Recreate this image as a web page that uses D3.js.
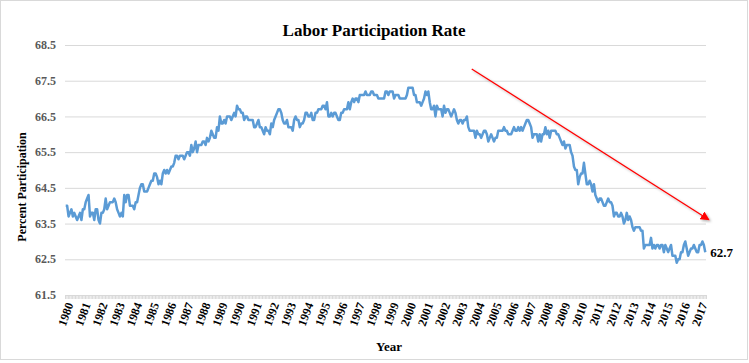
<!DOCTYPE html>
<html>
<head>
<meta charset="utf-8">
<script src="https://cdn.jsdelivr.net/npm/d3@7"></script>
<style>
  body { margin: 0; background: #fff; }
  svg { display: block; font-family: "Liberation Serif", "Times New Roman", serif; }
</style>
</head>
<body>
<svg id="chart" width="749" height="363"></svg>
<script>
// monthly labor force participation rate, Jan 1980 .. May 2017
const rate = [
  64.0, 64.0, 63.7, 63.8, 63.9, 63.7, 63.8, 63.7, 63.6, 63.7, 63.8, 63.6, // 1980
  63.9, 63.9, 64.1, 64.2, 64.3, 63.7, 63.8, 63.8, 63.6, 63.9, 63.9, 63.6, // 1981
  63.5, 63.8, 63.8, 63.9, 64.2, 63.9, 64.0, 64.1, 64.1, 64.1, 64.2, 64.1, // 1982
  63.9, 63.8, 63.7, 63.8, 63.7, 64.3, 64.1, 64.3, 64.3, 64.0, 64.0, 64.0, // 1983
  63.9, 64.1, 64.1, 64.3, 64.5, 64.6, 64.6, 64.4, 64.4, 64.4, 64.5, 64.6, // 1984
  64.7, 64.7, 64.9, 64.9, 64.8, 64.6, 64.7, 64.6, 64.9, 65.0, 64.9, 65.0, // 1985
  64.9, 65.0, 65.1, 65.1, 65.2, 65.4, 65.4, 65.3, 65.4, 65.4, 65.4, 65.3, // 1986
  65.4, 65.5, 65.5, 65.4, 65.7, 65.5, 65.6, 65.8, 65.5, 65.7, 65.7, 65.7, // 1987
  65.8, 65.8, 65.7, 65.9, 65.8, 65.9, 66.1, 66.0, 65.9, 65.9, 66.2, 66.1, // 1988
  66.5, 66.3, 66.3, 66.4, 66.3, 66.5, 66.5, 66.5, 66.4, 66.5, 66.6, 66.5, // 1989
  66.8, 66.7, 66.7, 66.6, 66.6, 66.4, 66.5, 66.5, 66.4, 66.4, 66.4, 66.4, // 1990
  66.2, 66.2, 66.3, 66.4, 66.2, 66.2, 66.1, 66.0, 66.2, 66.1, 66.1, 66.0, // 1991
  66.3, 66.2, 66.4, 66.5, 66.6, 66.7, 66.7, 66.6, 66.4, 66.3, 66.3, 66.4, // 1992
  66.2, 66.2, 66.2, 66.1, 66.4, 66.5, 66.4, 66.4, 66.2, 66.3, 66.3, 66.4, // 1993
  66.6, 66.6, 66.5, 66.5, 66.6, 66.4, 66.4, 66.6, 66.6, 66.7, 66.7, 66.7, // 1994
  66.8, 66.8, 66.7, 66.9, 66.5, 66.5, 66.6, 66.5, 66.6, 66.6, 66.5, 66.4, // 1995
  66.4, 66.6, 66.6, 66.7, 66.7, 66.7, 66.9, 66.7, 66.9, 67.0, 66.9, 67.0, // 1996
  67.0, 66.9, 67.1, 67.1, 67.1, 67.1, 67.2, 67.1, 67.1, 67.1, 67.2, 67.2, // 1997
  67.1, 67.1, 67.1, 67.0, 67.0, 67.0, 67.0, 67.0, 67.2, 67.2, 67.1, 67.2, // 1998
  67.2, 67.2, 67.0, 67.1, 67.1, 67.1, 67.0, 67.0, 67.0, 67.0, 67.0, 67.1, // 1999
  67.3, 67.3, 67.3, 67.3, 67.1, 67.1, 66.9, 66.9, 66.9, 66.8, 66.9, 67.0, // 2000
  67.2, 67.1, 67.2, 66.9, 66.7, 66.7, 66.8, 66.5, 66.8, 66.7, 66.7, 66.7, // 2001
  66.5, 66.8, 66.6, 66.7, 66.7, 66.6, 66.5, 66.6, 66.7, 66.6, 66.4, 66.3, // 2002
  66.4, 66.4, 66.3, 66.4, 66.4, 66.5, 66.2, 66.1, 66.1, 66.1, 66.1, 65.9, // 2003
  66.1, 66.0, 66.0, 65.9, 66.0, 66.1, 66.1, 66.0, 65.8, 65.9, 66.0, 65.9, // 2004
  65.8, 65.9, 65.9, 66.1, 66.1, 66.1, 66.1, 66.2, 66.1, 66.1, 66.0, 66.0, // 2005
  66.0, 66.1, 66.2, 66.1, 66.1, 66.2, 66.1, 66.2, 66.1, 66.2, 66.3, 66.4, // 2006
  66.4, 66.3, 66.2, 65.9, 66.0, 66.0, 66.0, 65.8, 66.0, 65.8, 66.0, 66.0, // 2007
  66.2, 66.0, 66.1, 65.9, 66.1, 66.1, 66.1, 66.1, 66.0, 66.0, 65.9, 65.8, // 2008
  65.7, 65.8, 65.6, 65.7, 65.7, 65.7, 65.5, 65.4, 65.1, 65.0, 65.0, 64.6, // 2009
  64.8, 64.9, 64.9, 65.2, 64.9, 64.6, 64.6, 64.7, 64.6, 64.4, 64.6, 64.3, // 2010
  64.2, 64.1, 64.2, 64.2, 64.1, 64.0, 64.0, 64.1, 64.2, 64.1, 64.1, 64.0, // 2011
  63.7, 63.8, 63.8, 63.7, 63.7, 63.8, 63.7, 63.5, 63.6, 63.8, 63.6, 63.7, // 2012
  63.6, 63.4, 63.3, 63.4, 63.4, 63.4, 63.4, 63.3, 63.3, 62.8, 62.9, 62.9, // 2013
  62.9, 62.9, 63.1, 62.8, 62.9, 62.8, 62.9, 62.9, 62.8, 62.9, 62.9, 62.7, // 2014
  62.9, 62.8, 62.7, 62.8, 62.9, 62.6, 62.6, 62.6, 62.4, 62.5, 62.5, 62.7, // 2015
  62.7, 62.9, 63.0, 62.8, 62.6, 62.7, 62.8, 62.8, 62.9, 62.8, 62.7, 62.7, // 2016
  62.9, 62.9, 63.0, 62.9, 62.7                                            // 2017
];
const startYear = 1980;
const years = d3.range(1980, 2018);
const yTicks = [61.5, 62.5, 63.5, 64.5, 65.5, 66.5, 67.5, 68.5];
const lastLabel = '62.7';
// trend arrow, in [year, rate]
const arrowFrom = [2003.7, 67.83];
const arrowTo = [2017.5, 63.62];

const svg = d3.select('#chart');
const plotLeft = 65, plotRight = 706, plotTop = 45, plotBottom = 295;

const x = d3.scaleLinear()
  .domain([-0.5, rate.length - 0.5])
  .range([plotLeft, plotRight]);
const y = d3.scaleLinear()
  .domain([61.5, 68.5])
  .range([plotBottom, plotTop]);
const xYear = yr => x((yr - startYear) * 12);

// frame
svg.append('rect')
  .attr('x', 0.5).attr('y', 0.5)
  .attr('width', 747).attr('height', 359)
  .attr('fill', 'none')
  .attr('stroke', '#d9d9d9');

// title
svg.append('text')
  .attr('x', 374).attr('y', 36)
  .attr('text-anchor', 'middle')
  .style('font-size', '17px')
  .style('font-weight', 'bold')
  .text('Labor Participation Rate');

// grid
svg.append('g')
  .selectAll('line')
  .data(yTicks.slice(1))
  .enter().append('line')
  .attr('x1', plotLeft).attr('x2', plotRight)
  .attr('y1', d => y(d) + 0.5).attr('y2', d => y(d) + 0.5)
  .attr('stroke', '#d9d9d9');

// y labels
svg.append('g')
  .selectAll('text')
  .data(yTicks)
  .enter().append('text')
  .attr('x', 56)
  .attr('y', d => y(d))
  .attr('dy', '0.35em')
  .attr('text-anchor', 'end')
  .style('font-size', '12px')
  .style('font-weight', 'bold')
  .attr('fill', '#595959')
  .text(d => d.toFixed(1));

// x axis with monthly ticks
const xAxis = svg.append('g')
  .attr('transform', `translate(0,${plotBottom})`)
  .call(d3.axisBottom(x)
    .tickValues(d3.range(0, rate.length + 1).map(i => i - 0.5))
    .tickSize(4)
    .tickFormat(''));
xAxis.select('.domain').attr('stroke', '#d9d9d9');
xAxis.selectAll('.tick line').attr('stroke', '#d9d9d9');

svg.append('g')
  .selectAll('text')
  .data(years)
  .enter().append('text')
  .attr('transform', d => `translate(${xYear(d) + 4},${plotBottom + 8}) rotate(-70)`)
  .attr('text-anchor', 'end')
  .attr('dy', '0.35em')
  .style('font-size', '12px')
  .style('font-weight', 'bold')
  .text(d => d);

// axis titles
svg.append('text')
  .attr('transform', 'translate(26,187) rotate(-90)')
  .attr('text-anchor', 'middle')
  .style('font-size', '12px')
  .style('font-weight', 'bold')
  .text('Percent Participation');

svg.append('text')
  .attr('x', 389).attr('y', 351)
  .attr('text-anchor', 'middle')
  .style('font-size', '13px')
  .style('font-weight', 'bold')
  .text('Year');

// the line
svg.append('path')
  .datum(rate)
  .attr('fill', 'none')
  .attr('stroke', '#5b9bd5')
  .attr('stroke-width', 2.5)
  .attr('stroke-linejoin', 'round')
  .attr('d', d3.line().x((d, i) => x(i)).y(d => y(d)));

svg.append('text')
  .attr('x', x(rate.length - 1) + 5)
  .attr('y', y(rate[rate.length - 1]))
  .attr('dy', '0.35em')
  .style('font-size', '13px')
  .style('font-weight', 'bold')
  .text(lastLabel);

// trend arrow
const defs = svg.append('defs');
defs.append('marker')
  .attr('id', 'head')
  .attr('viewBox', '0 0 10 10')
  .attr('refX', 8).attr('refY', 5)
  .attr('markerWidth', 7).attr('markerHeight', 7)
  .attr('orient', 'auto')
  .append('path')
  .attr('d', 'M0,0L10,5L0,10Z')
  .attr('fill', '#ff0000');
const shadow = defs.append('filter').attr('id', 'shadow')
  .attr('x', '-10%').attr('y', '-10%').attr('width', '130%').attr('height', '130%');
shadow.append('feDropShadow')
  .attr('dx', 1.5).attr('dy', 1.5).attr('stdDeviation', 1.2)
  .attr('flood-color', '#000').attr('flood-opacity', 0.3);

svg.append('line')
  .attr('x1', xYear(arrowFrom[0])).attr('y1', y(arrowFrom[1]))
  .attr('x2', xYear(arrowTo[0])).attr('y2', y(arrowTo[1]))
  .attr('stroke', '#ff0000')
  .attr('stroke-width', 1.3)
  .attr('marker-end', 'url(#head)')
  .attr('filter', 'url(#shadow)');
</script>
</body>
</html>
